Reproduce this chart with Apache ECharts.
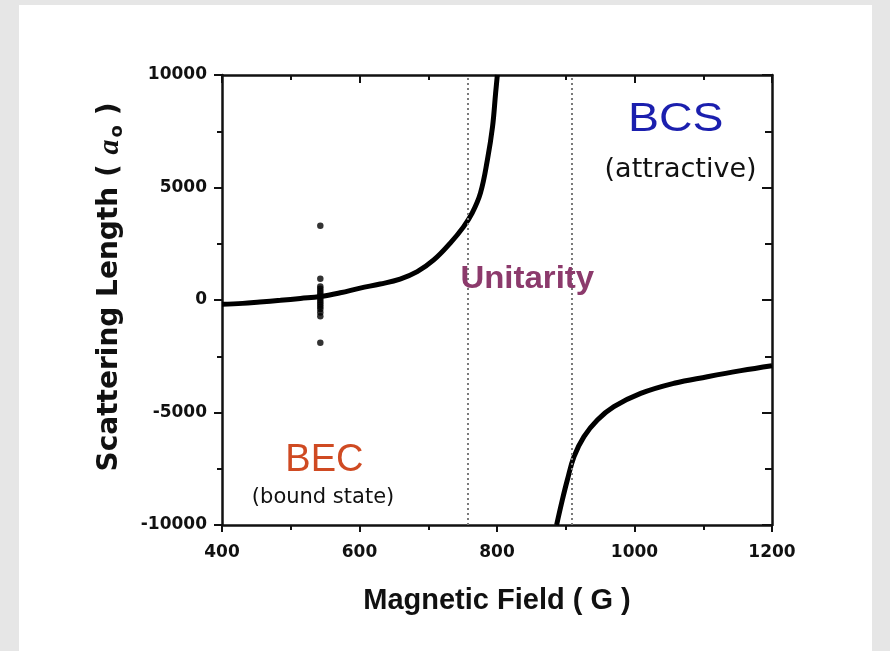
<!DOCTYPE html>
<html><head><meta charset="utf-8">
<script src="https://cdn.jsdelivr.net/npm/echarts@6/dist/echarts.min.js"></script>
<style>
html,body{margin:0;padding:0;background:#e6e6e6;overflow:hidden;}
#panel{position:absolute;left:19px;top:5px;width:853px;height:646px;background:#fff;}
#chart{position:absolute;left:0;top:0;width:890px;height:651px;}
</style></head><body>
<div id="panel"></div><div id="chart"></div>
<script>
// ---- data ----
const xTickValues = [400, 600, 800, 1000, 1200];
const yTickValues = [-10000, -5000, 0, 5000, 10000];

// BEC side branch (field in G, scattering length in a0)
const becField  = [400, 430, 455, 485, 514, 543, 572, 601, 630, 659, 684, 708, 732, 751, 764, 776, 786, 793.5, 798, 800.5];
const becLength = [-190, -150, -90, -15, 70, 155, 320, 530, 710, 930, 1260, 1780, 2530, 3240, 3870, 4760, 6220, 7700, 9200, 10000];

// BCS side branch
const bcsField  = [886.7, 895, 902.3, 912, 926.5, 946, 970, 1009, 1057.6, 1106, 1154.8, 1200];
const bcsLength = [-10000, -8890, -8000, -6960, -6070, -5330, -4740, -4150, -3700, -3410, -3140, -2920];

// narrow resonance points near 543 G
const narrowField  = [543, 543, 543, 543, 543, 543, 543, 543, 543, 543, 543, 543, 543, 543, 543, 543];
const narrowLength = [3300, 950, 600, 500, 400, 300, 200, 100, 0, -100, -200, -300, -400, -550, -720, -1900];

// unitarity window boundaries
const unitarityBounds = [758, 909];

// ---- chart ----
const zip = (xs, ys) => xs.map((x, i) => [x, ys[i]]);
const chart = echarts.init(document.getElementById('chart'), null, {renderer: 'canvas'});

const tickFont = {fontFamily: 'DejaVu Sans', fontWeight: 'bold', fontSize: 17, color: '#111'};
const axisLine = {show: true, onZero: false, lineStyle: {color: '#111', width: 2.5}};

chart.setOption({
  animation: false,
  grid: {left: 222, right: 118, top: 75, bottom: 126, containLabel: false},
  xAxis: [{
    type: 'value', min: 400, max: 1200, interval: 200, position: 'bottom',
    axisLine: axisLine,
    axisTick: {show: true, inside: false, length: 7, lineStyle: {color: '#111', width: 2}},
    minorTick: {show: true, splitNumber: 2, length: 5, lineStyle: {color: '#111', width: 2}},
    splitLine: {show: false},
    axisLabel: Object.assign({margin: 19, formatter: v => xTickValues.includes(v) ? String(v) : ''}, tickFont),
    name: 'Magnetic Field ( G )', nameLocation: 'middle', nameGap: 61,
    nameTextStyle: {fontFamily: 'Liberation Sans', fontWeight: 'bold', fontSize: 29, color: '#111'}
  }, {
    type: 'value', min: 400, max: 1200, interval: 200, position: 'top',
    axisLine: axisLine,
    axisTick: {show: true, inside: true, length: 8, lineStyle: {color: '#111', width: 2}},
    minorTick: {show: true, splitNumber: 2, length: 5, lineStyle: {color: '#111', width: 2}},
    splitLine: {show: false}, axisLabel: {show: false}
  }],
  yAxis: [{
    type: 'value', min: -10000, max: 10000, interval: 5000, position: 'left',
    axisLine: axisLine,
    axisTick: {show: true, inside: false, length: 8, lineStyle: {color: '#111', width: 2}},
    minorTick: {show: true, splitNumber: 2, length: 5, lineStyle: {color: '#111', width: 2}},
    splitLine: {show: false},
    axisLabel: Object.assign({margin: 15, formatter: v => yTickValues.includes(v) ? String(v) : ''}, tickFont),
    name: 'Scattering Length ( {i|a}{s|o} )', nameLocation: 'middle', nameGap: 96, nameRotate: 90,
    nameTextStyle: {
      fontFamily: 'DejaVu Sans', fontWeight: 'bold', fontSize: 28, color: '#111', padding: [0, 0, 0, 26],
      rich: {
        i: {fontFamily: 'Liberation Serif', fontStyle: 'italic', fontWeight: 'bold', fontSize: 30, color: '#111'},
        s: {fontFamily: 'DejaVu Sans', fontWeight: 'bold', fontSize: 18, color: '#111', padding: [14, 0, 0, 2]}
      }
    }
  }, {
    type: 'value', min: -10000, max: 10000, interval: 5000, position: 'right',
    axisLine: axisLine,
    axisTick: {show: true, inside: true, length: 10, lineStyle: {color: '#111', width: 2}},
    minorTick: {show: true, splitNumber: 2, length: 7, lineStyle: {color: '#111', width: 2}},
    splitLine: {show: false}, axisLabel: {show: false}
  }],
  series: [{
    name: 'BEC branch', type: 'line', data: zip(becField, becLength),
    smooth: 0.4, showSymbol: false, symbol: 'none',
    lineStyle: {color: '#000', width: 5}, z: 3,
    markLine: {
      silent: true, symbol: 'none', label: {show: false},
      lineStyle: {color: '#7a7a7a', type: [2, 3], width: 2},
      data: unitarityBounds.map(v => ({xAxis: v}))
    }
  }, {
    name: 'BCS branch', type: 'line', data: zip(bcsField, bcsLength),
    smooth: 0.4, showSymbol: false, symbol: 'none',
    lineStyle: {color: '#000', width: 5}, z: 3
  }, {
    name: 'narrow', type: 'scatter', data: zip(narrowField, narrowLength),
    symbol: 'circle', symbolSize: 6.5, itemStyle: {color: '#000'}, z: 4
  }]
});

// annotations anchored in data coordinates
const P = (b, a) => chart.convertToPixel({xAxisIndex: 0, yAxisIndex: 0}, [b, a]);
const notes = [
  {text: 'BCS', at: [1060, 8000], font: 'normal 40px "Liberation Sans"', fill: '#1b1fae', sx: 1.16},
  {text: '(attractive)', at: [1067, 5778], font: 'normal 27px "DejaVu Sans"', fill: '#111', sx: 1},
  {text: 'Unitarity', at: [844, 933], font: 'bold 32px "Liberation Sans"', fill: '#8c3a6c', sx: 1.03},
  {text: 'BEC', at: [549, -7156], font: 'normal 38px "Liberation Sans"', fill: '#cf4a22', sx: 1},
  {text: '(bound state)', at: [547, -8800], font: 'normal 21px "DejaVu Sans"', fill: '#111', sx: 1}
];
chart.setOption({
  graphic: notes.map(n => {
    const p = P(n.at[0], n.at[1]);
    return {
      type: 'text', x: p[0], y: p[1], scaleX: n.sx, z: 10,
      style: {text: n.text, font: n.font, fill: n.fill, align: 'center', verticalAlign: 'middle',
              textAlign: 'center', textVerticalAlign: 'middle'}
    };
  })
});
</script>
</body></html>
